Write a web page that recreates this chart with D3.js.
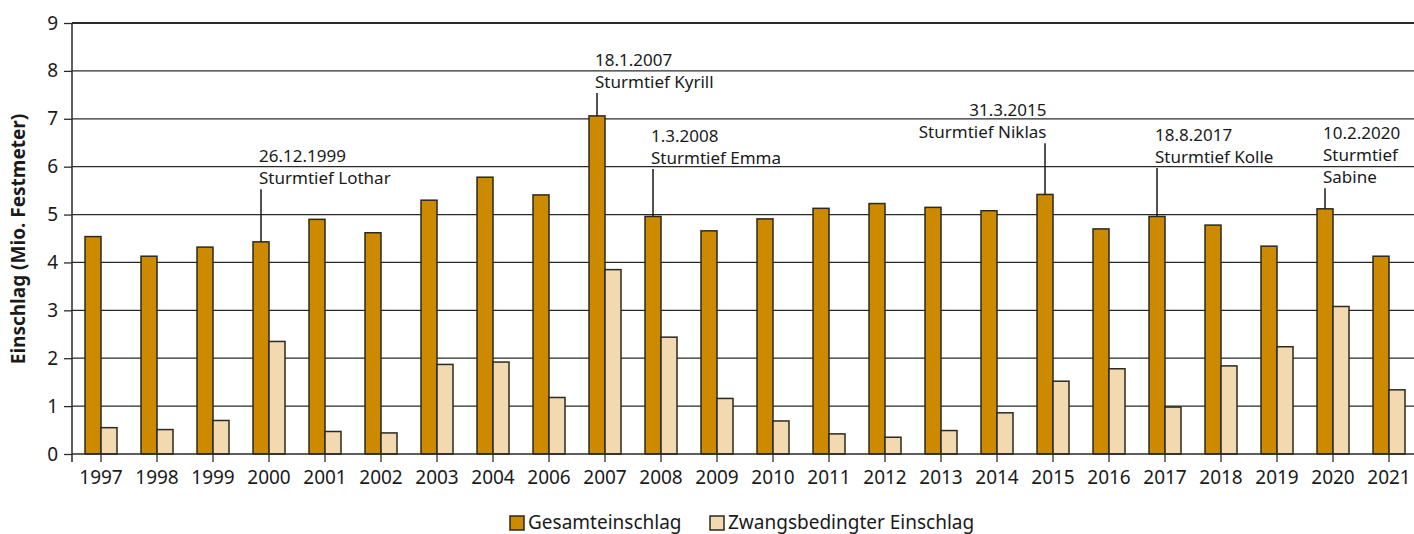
<!DOCTYPE html>
<html>
<head>
<meta charset="utf-8">
<script src="https://cdn.jsdelivr.net/npm/d3@7"></script>
<style>
  html, body { margin: 0; padding: 0; background: #fff; }
  svg { display: block; }
  text { font-family: "Noto Sans", "Open Sans", sans-serif; fill: #1a1a1a; }
</style>
</head>
<body>
<svg id="chart" width="1414" height="534"></svg>
<script>
// ---- Data ----
const years = ["1997","1998","1999","2000","2001","2002","2003","2004","2006","2007","2008","2009","2010","2011","2012","2013","2014","2015","2016","2017","2018","2019","2020","2021"];
const gesamt = [4.54,4.13,4.32,4.43,4.90,4.62,5.30,5.78,5.41,7.06,4.96,4.66,4.91,5.13,5.23,5.15,5.08,5.42,4.70,4.96,4.78,4.34,5.12,4.13];
const zwangs = [0.55,0.51,0.70,2.35,0.47,0.44,1.87,1.92,1.18,3.85,2.44,1.16,0.69,0.42,0.35,0.49,0.86,1.52,1.78,0.98,1.84,2.24,3.08,1.34];
const seriesNames = ["Gesamteinschlag","Zwangsbedingter Einschlag"];
const yTicks = [0,1,2,3,4,5,6,7,8,9];
const yLabel = "Einschlag (Mio. Festmeter)";
const annYears = ["2000","2007","2008","2015","2017","2020"];
const annTexts = [
  ["26.12.1999","Sturmtief Lothar"],
  ["18.1.2007","Sturmtief Kyrill"],
  ["1.3.2008","Sturmtief Emma"],
  ["31.3.2015","Sturmtief Niklas"],
  ["18.8.2017","Sturmtief Kolle"],
  ["10.2.2020","Sturmtief","Sabine"]
];
const annLevels = [5.53, 7.54, 5.95, 6.49, 5.97, 5.55]; // where the leader line ends (value units)
const annAnchor = ["start","start","start","end","start","start"];

// ---- Layout ----
const svg = d3.select("#chart");
const mLeft = 72, mRight = 1414, mTop = 23, mBottom = 454;
const colors = ["#cc8a00", "#f2d9b0"];
const strokeCol = "#2a2a1f";

const x0 = d3.scaleBand().domain(years).range([73, 1417]).paddingInner(0).paddingOuter(0);
const barW = 16;
const x1 = d3.scaleBand().domain(seriesNames)
  .range([x0.bandwidth()/2 - barW, x0.bandwidth()/2 + barW]);
const y = d3.scaleLinear().domain([0, 9]).range([mBottom, mTop]);

// grid lines
svg.append("g")
  .selectAll("line").data(yTicks.filter(d => d > 0)).join("line")
  .attr("x1", mLeft).attr("x2", mRight)
  .attr("y1", d => y(d)).attr("y2", d => y(d))
  .attr("stroke", "#2a2a2a")
  .attr("stroke-width", d => d === 9 ? 2 : 1.2);

// y axis
const yAxis = svg.append("g").attr("transform", `translate(${mLeft},0)`)
  .call(d3.axisLeft(y).tickValues(yTicks).tickSize(8).tickPadding(6).tickFormat(d3.format("d")));
yAxis.select(".domain").remove();
yAxis.selectAll(".tick line").attr("stroke", "#2a2a2a").attr("stroke-width", 1.3);
yAxis.selectAll(".tick text").attr("font-size", 19).attr("fill", "#1a1a1a")
  .style("font-family", "'Noto Sans', sans-serif");
svg.append("line").attr("x1", mLeft).attr("x2", mLeft).attr("y1", mTop).attr("y2", mBottom + 8)
  .attr("stroke", "#2a2a2a").attr("stroke-width", 1.5);

// bars
const groups = svg.append("g").selectAll("g").data(years).join("g")
  .attr("transform", d => `translate(${x0(d)},0)`);
groups.selectAll("rect")
  .data((d, i) => [ {s: seriesNames[0], v: gesamt[i], c: colors[0]}, {s: seriesNames[1], v: zwangs[i], c: colors[1]} ])
  .join("rect")
  .attr("x", d => x1(d.s))
  .attr("width", x1.bandwidth())
  .attr("y", d => y(d.v))
  .attr("height", d => y(0) - y(d.v))
  .attr("fill", d => d.c)
  .attr("stroke", strokeCol)
  .attr("stroke-width", 1.5);

// x axis
const xAxis = svg.append("g").attr("transform", `translate(0,${mBottom})`)
  .call(d3.axisBottom(x0).tickSize(8).tickPadding(9));
xAxis.select(".domain").attr("d", `M${mLeft},0H${mRight}`).attr("stroke", "#2a2a2a").attr("stroke-width", 1.6);
xAxis.selectAll(".tick line").attr("stroke", "#2a2a2a").attr("stroke-width", 1.3);
xAxis.selectAll(".tick text").attr("font-size", 19).attr("fill", "#1a1a1a")
  .style("font-family", "'Noto Sans', sans-serif");

// y label
svg.append("text")
  .attr("transform", `translate(25,239) rotate(-90)`)
  .attr("text-anchor", "middle")
  .attr("font-size", 19).attr("font-weight", "bold")
  .text(yLabel);

// annotations
annYears.forEach((yr, i) => {
  const idx = years.indexOf(yr);
  const lx = x0(yr) + x1(seriesNames[0]) + x1.bandwidth()/2;
  const yTop = y(annLevels[i]);
  svg.append("line")
    .attr("x1", lx).attr("x2", lx)
    .attr("y1", yTop).attr("y2", y(gesamt[idx]))
    .attr("stroke", "#1a1a1a").attr("stroke-width", 1.5);
  const lines = annTexts[i];
  const tx = annAnchor[i] === "end" ? lx + 1.5 : lx - 2;
  const t = svg.append("text")
    .attr("text-anchor", annAnchor[i])
    .attr("font-size", 17);
  lines.forEach((ln, j) => {
    t.append("tspan")
      .attr("x", tx)
      .attr("y", yTop - 5 - 22 * (lines.length - 1 - j))
      .text(ln);
  });
});

// legend
const legend = svg.append("g");
const legX = [510, 710];
seriesNames.forEach((s, i) => {
  legend.append("rect")
    .attr("x", legX[i]).attr("y", 516)
    .attr("width", 14).attr("height", 14)
    .attr("fill", colors[i]).attr("stroke", strokeCol).attr("stroke-width", 1.5);
  legend.append("text")
    .attr("x", legX[i] + 18).attr("y", 528.5)
    .attr("font-size", 19)
    .text(s);
});
</script>
</body>
</html>
